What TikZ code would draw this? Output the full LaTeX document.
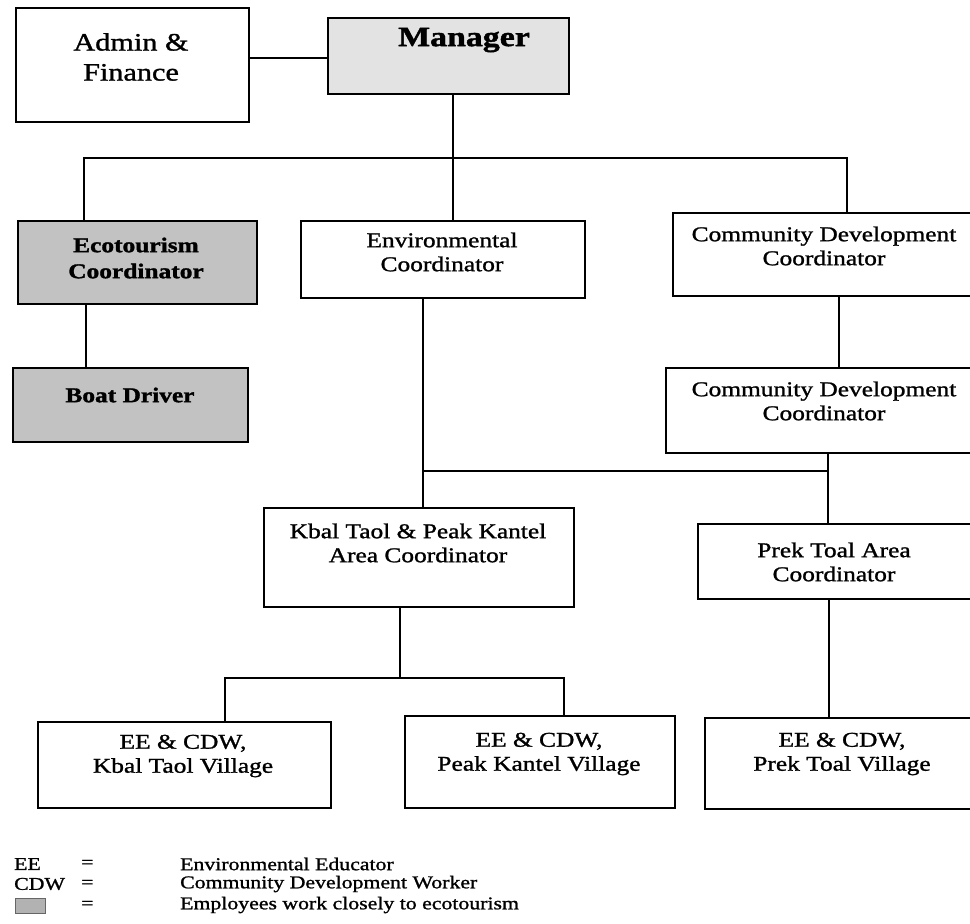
\documentclass[tikz,border=0pt]{standalone}
\usepackage{fontspec}
\setmainfont[FakeStretch=1.21,
  UprightFeatures={FakeBold=1.2},
  BoldFeatures={FakeBold=1.5}]{Liberation Serif}
\begin{document}
\begin{tikzpicture}[x=1pt,y=-1pt,
  box/.style={draw=black, line width=1.6pt, fill=white, inner sep=0pt, anchor=north west},
  shaded/.style={box, fill=black!24},
  light/.style={box, fill=black!11},
  lbl/.style={align=center, inner sep=0pt, font=\fontsize{21}{24}\selectfont},
  boldlbl/.style={align=center, inner sep=0pt, font=\fontsize{21}{26}\selectfont\bfseries},
  leg/.style={inner sep=0pt, anchor=west, font=\fontsize{18}{20}\selectfont},
  wire/.style={line width=1.4pt}]
\useasboundingbox (0,0) rectangle (970,924);
\clip (0,0) rectangle (970,924);

% ---- boxes ----
\node[box, minimum width=233, minimum height=114] (admin) at (15,7) {};
\node[light, minimum width=241, minimum height=76] (manager) at (327,17) {};
\node[shaded, minimum width=239, minimum height=83] (eco) at (17,220) {};
\node[shaded, minimum width=235, minimum height=74] (boat) at (12,367) {};
\node[box, minimum width=284, minimum height=77] (env) at (300,220) {};
\node[box, minimum width=330, minimum height=83] (cdc1) at (672,212) {};
\node[box, minimum width=337, minimum height=85] (cdc2) at (665,367) {};
\node[box, minimum width=310, minimum height=99] (kbal) at (263,507) {};
\node[box, minimum width=305, minimum height=75] (prek) at (697,523) {};
\node[box, minimum width=293, minimum height=86] (vkt) at (37,721) {};
\node[box, minimum width=270, minimum height=92] (vpk) at (404,715) {};
\node[box, minimum width=298, minimum height=91] (vpt) at (704,717) {};

% ---- texts ----
\node[lbl, font=\fontsize{25}{30}\selectfont] (adminT) at (131,57) {Admin \&\\Finance};
\node[boldlbl, font=\fontsize{28}{30}\selectfont\bfseries] (managerT) at (464,40) {Manager};
\node[boldlbl] (ecoT) at (136,258) {Ecotourism\\Coordinator};
\node[boldlbl] (boatT) at (130,395) {Boat Driver};
\node[lbl] (envT) at (442,252) {Environmental\\Coordinator};
\node[lbl] (cdc1T) at (824,246) {Community Development\\Coordinator};
\node[lbl] (cdc2T) at (824,401) {Community Development\\Coordinator};
\node[lbl] (kbalT) at (418,543) {Kbal Taol \& Peak Kantel\\Area Coordinator};
\node[lbl] (prekT) at (834,562) {Prek Toal Area\\Coordinator};
\node[lbl] (vktT) at (183,756) {EE \& CDW,\\Kbal Taol Village};
\node[lbl] (vpkT) at (539,754) {EE \& CDW,\\Peak Kantel Village};
\node[lbl] (vptT) at (842,754) {EE \& CDW,\\Prek Toal Village};

% ---- junction points of the connector lines ----
\coordinate (amLine) at (0,58);
\coordinate (topMid) at (453,158);
\coordinate (topL) at (84,158);
\coordinate (topR) at (847,158);
\coordinate (ecoDrop) at (86,0);
\coordinate (cdcDrop) at (839,0);
\coordinate (envDrop) at (423,0);
\coordinate (midL) at (423,471);
\coordinate (midR) at (828,471);
\coordinate (kbalDrop) at (400,678);
\coordinate (lowL) at (225,678);
\coordinate (lowR) at (564,678);
\coordinate (prekDrop) at (829,0);

% ---- connectors ----
\draw[wire] (admin.east |- amLine) -- (manager.west |- amLine);
\draw[wire] (manager.south -| topMid) -- (env.north -| topMid);
\draw[wire] (eco.north -| topL) -- (topL) -- (topR) -- (cdc1.north -| topR);
\draw[wire] (eco.south -| ecoDrop) -- (boat.north -| ecoDrop);
\draw[wire] (cdc1.south -| cdcDrop) -- (cdc2.north -| cdcDrop);
\draw[wire] (env.south -| envDrop) -- (kbal.north -| envDrop);
\draw[wire] (midL) -- (midR);
\draw[wire] (cdc2.south -| midR) -- (prek.north -| midR);
\draw[wire] (kbal.south -| kbalDrop) -- (kbalDrop);
\draw[wire] (vkt.north -| lowL) -- (lowL) -- (lowR) -- (vpk.north -| lowR);
\draw[wire] (prek.south -| prekDrop) -- (vpt.north -| prekDrop);

% ---- legend ----
\node[leg] (lgEE) at (14,864) {EE};
\node[leg] (lgEq1) at (81,864) {=};
\node[leg] (lgEEx) at (180,864) {Environmental Educator};
\node[leg] (lgCDW) at (14,884) {CDW};
\node[leg] (lgEq2) at (81,884) {=};
\node[leg] (lgCDWx) at (180,884) {Community Development  Worker};
\node[draw=black!60, line width=0.6pt, fill=black!30, minimum width=30, minimum height=15, inner sep=0pt, anchor=north west] (lgSw) at (15,898) {};
\node[leg] (lgEq3) at (81,905) {=};
\node[leg] (lgSwx) at (180,905) {Employees work closely  to ecotourism};
\end{tikzpicture}
\end{document}
